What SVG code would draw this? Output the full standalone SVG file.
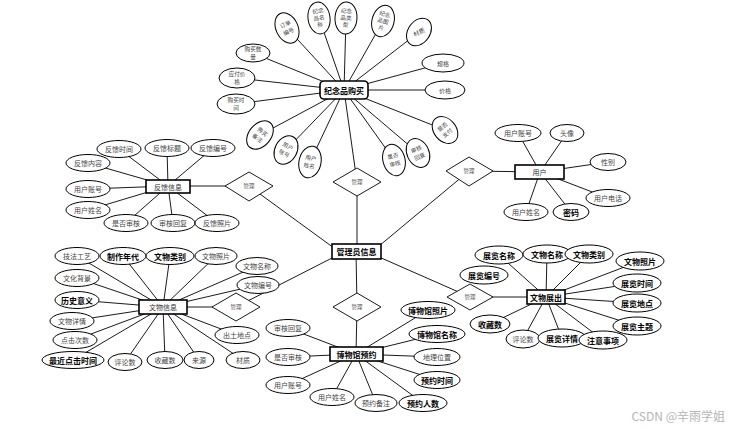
<svg xmlns="http://www.w3.org/2000/svg" width="735" height="429" viewBox="0 0 735 429">
<style>
text{font-family:'Noto Sans CJK SC','Noto Sans',sans-serif;text-anchor:middle;dominant-baseline:central}
.t{font-size:7px;fill:#444}
.b{font-size:8px;fill:#000;font-weight:bold}
.s{font-size:6px;fill:#444}
.s2{font-size:5.6px;fill:#444}
.dl{font-size:5.5px;fill:#555}
.en{font-size:7px;fill:#333}
.eb{font-size:8px;fill:#000;font-weight:bold}
ellipse{fill:#fff;stroke:#000;stroke-width:1}
.er{fill:#fff;stroke:#000;stroke-width:1.6}
.d{fill:#fff;stroke:#000;stroke-width:0.9}
#connectors line{stroke:#000;stroke-width:0.9}
</style>
<rect width="735" height="429" fill="#fff"/>
<g id="connectors">
<!-- souvenir -->
<line x1="287" y1="28" x2="344" y2="90"/><line x1="319" y1="18" x2="344" y2="90"/><line x1="346" y1="18" x2="344" y2="90"/><line x1="383" y1="21" x2="344" y2="90"/><line x1="419" y1="32" x2="344" y2="90"/><line x1="253" y1="53" x2="344" y2="90"/><line x1="237" y1="78" x2="344" y2="90"/><line x1="443" y1="63" x2="344" y2="90"/><line x1="445" y1="90" x2="344" y2="90"/><line x1="236" y1="104" x2="344" y2="90"/><line x1="260" y1="135" x2="344" y2="90"/><line x1="286" y1="150" x2="344" y2="90"/><line x1="310" y1="162" x2="344" y2="90"/><line x1="394" y1="160" x2="344" y2="90"/><line x1="418" y1="153" x2="344" y2="90"/><line x1="445" y1="130" x2="344" y2="90"/>
<!-- feedback -->
<line x1="119" y1="149" x2="168" y2="186"/><line x1="167" y1="148" x2="168" y2="186"/><line x1="213" y1="148" x2="168" y2="186"/><line x1="88" y1="163" x2="168" y2="186"/><line x1="88" y1="189" x2="168" y2="186"/><line x1="88" y1="210" x2="168" y2="186"/><line x1="126" y1="223" x2="168" y2="186"/><line x1="173" y1="223" x2="168" y2="186"/><line x1="217" y1="223" x2="168" y2="186"/>
<!-- user -->
<line x1="518" y1="133" x2="540" y2="172"/><line x1="567" y1="133" x2="540" y2="172"/><line x1="608" y1="162" x2="540" y2="172"/><line x1="608" y1="198" x2="540" y2="172"/><line x1="526" y1="212" x2="540" y2="172"/><line x1="571" y1="212" x2="540" y2="172"/>
<!-- artifact -->
<line x1="77" y1="256" x2="163" y2="307"/><line x1="123" y1="256" x2="163" y2="307"/><line x1="170" y1="256" x2="163" y2="307"/><line x1="216" y1="256" x2="163" y2="307"/><line x1="257" y1="266" x2="163" y2="307"/><line x1="258" y1="285" x2="163" y2="307"/><line x1="77" y1="278" x2="163" y2="307"/><line x1="77" y1="300" x2="163" y2="307"/><line x1="72" y1="321" x2="163" y2="307"/><line x1="75" y1="340" x2="163" y2="307"/><line x1="73" y1="360" x2="163" y2="307"/><line x1="125" y1="362" x2="163" y2="307"/><line x1="165" y1="360" x2="163" y2="307"/><line x1="199" y1="360" x2="163" y2="307"/><line x1="243" y1="360" x2="163" y2="307"/><line x1="237" y1="335" x2="163" y2="307"/>
<!-- reservation -->
<line x1="288" y1="328" x2="356" y2="354"/><line x1="288" y1="357" x2="356" y2="354"/><line x1="288" y1="385" x2="356" y2="354"/><line x1="332" y1="397" x2="356" y2="354"/><line x1="376" y1="403" x2="356" y2="354"/><line x1="423" y1="403" x2="356" y2="354"/><line x1="437" y1="380" x2="356" y2="354"/><line x1="437" y1="357" x2="356" y2="354"/><line x1="437" y1="334" x2="356" y2="354"/><line x1="428" y1="310" x2="356" y2="354"/>
<!-- exhibition -->
<line x1="499" y1="255" x2="546" y2="297"/><line x1="547" y1="254" x2="546" y2="297"/><line x1="589" y1="254" x2="546" y2="297"/><line x1="640" y1="261" x2="546" y2="297"/><line x1="637" y1="283" x2="546" y2="297"/><line x1="637" y1="303" x2="546" y2="297"/><line x1="637" y1="326" x2="546" y2="297"/><line x1="490" y1="324" x2="546" y2="297"/><line x1="523" y1="339" x2="546" y2="297"/><line x1="562" y1="338" x2="546" y2="297"/><line x1="603" y1="340" x2="546" y2="297"/>
<!-- relationships -->
<line x1="168" y1="186" x2="249" y2="186"/><line x1="249" y1="186" x2="334" y2="248"/>
<line x1="344" y1="90" x2="357" y2="182"/><line x1="357" y1="182" x2="357" y2="251"/>
<line x1="379" y1="246" x2="469" y2="171"/><line x1="469" y1="171" x2="540" y2="172"/>
<line x1="163" y1="307" x2="236" y2="307"/><line x1="236" y1="307" x2="334" y2="257"/>
<line x1="356" y1="251" x2="357" y2="307"/><line x1="357" y1="307" x2="356" y2="354"/>
<line x1="379" y1="257" x2="470" y2="297"/><line x1="470" y1="297" x2="546" y2="297"/>
</g>

<!-- relationship diamonds -->
<g id="rel-feedback"><polygon class="d" points="225,186 249,172 273,186 249,201"/><text class="dl" x="249" y="186">管理</text></g>
<g id="rel-souvenir"><polygon class="d" points="333,182 357,168 381,182 357,196"/><text class="dl" x="357" y="182">管理</text></g>
<g id="rel-user"><polygon class="d" points="446,171 469,157 493,171 469,186"/><text class="dl" x="469" y="171">管理</text></g>
<g id="rel-artifact"><polygon class="d" points="212,307 236,293 260,307 236,321"/><text class="dl" x="236" y="307">管理</text></g>
<g id="rel-reservation"><polygon class="d" points="333,307 357,293 381,307 357,321"/><text class="dl" x="357" y="307">管理</text></g>
<g id="rel-exhibition"><polygon class="d" points="447,297 470,284 493,297 470,310"/><text class="dl" x="470" y="297">管理</text></g>

<!-- entities -->
<g id="ent-souvenir"><rect class="er" x="320" y="81" width="48" height="18" rx="4"/><text class="eb" x="344" y="90">纪念品购买</text></g>
<g id="ent-admin"><rect class="er" x="332" y="244" width="49" height="15"/><text class="eb" x="356.5" y="251.5">管理员信息</text></g>
<g id="ent-feedback"><rect class="er" x="146" y="180" width="44" height="13"/><text class="en" x="168" y="186.5">反馈信息</text></g>
<g id="ent-user"><rect class="er" x="515" y="165" width="49" height="14"/><text class="en" x="539.5" y="172">用户</text></g>
<g id="ent-artifact"><rect class="er" x="139" y="300" width="48" height="14"/><text class="en" x="163" y="307">文物信息</text></g>
<g id="ent-reservation"><rect class="er" x="330" y="347" width="53" height="14"/><text class="eb" x="356.5" y="354">博物馆预约</text></g>
<g id="ent-exhibition"><rect class="er" x="527" y="290" width="38" height="14"/><text class="eb" x="546" y="297">文物展出</text></g>

<!-- souvenir attributes -->
<g id="s-ddbh" transform="translate(287,28) rotate(-25)"><ellipse rx="11" ry="16"/><text class="s2"><tspan x="0" y="-4">订单</tspan><tspan x="0" y="4">编号</tspan></text></g>
<g id="s-jnpmc" transform="translate(319,18) rotate(-8)"><ellipse rx="11" ry="16"/><text class="s2"><tspan x="0" y="-7">纪念</tspan><tspan x="0" y="0">品名</tspan><tspan x="0" y="7">称</tspan></text></g>
<g id="s-jnplx" transform="translate(346,18) rotate(3)"><ellipse rx="11" ry="16"/><text class="s2"><tspan x="0" y="-7">纪念</tspan><tspan x="0" y="0">品类</tspan><tspan x="0" y="7">型</tspan></text></g>
<g id="s-jnptp" transform="translate(383,21) rotate(15)"><ellipse rx="11" ry="16"/><text class="s2"><tspan x="0" y="-7">纪念</tspan><tspan x="0" y="0">品图</tspan><tspan x="0" y="7">片</tspan></text></g>
<g id="s-cz" transform="translate(419,32) rotate(35)"><ellipse rx="11" ry="15"/><text class="s" x="0" y="0" transform="rotate(-60)">材质</text></g>
<g id="s-gmsl"><ellipse cx="253" cy="53" rx="17" ry="9"/><text class="s2"><tspan x="253" y="49">购买数</tspan><tspan x="253" y="57">量</tspan></text></g>
<g id="s-yfjg"><ellipse cx="237" cy="78" rx="18" ry="10"/><text class="s2"><tspan x="237" y="74">应付价</tspan><tspan x="237" y="82">格</tspan></text></g>
<g id="s-gmsj"><ellipse cx="236" cy="104" rx="19" ry="10"/><text class="s2"><tspan x="236" y="100">购买时</tspan><tspan x="236" y="108">间</tspan></text></g>
<g id="s-gg"><ellipse cx="443" cy="63" rx="21" ry="9"/><text class="s" x="443" y="63">规格</text></g>
<g id="s-jg"><ellipse cx="445" cy="90" rx="20" ry="9"/><text class="s" x="445" y="90">价格</text></g>
<g id="s-gmbz" transform="translate(260,135) rotate(40)"><ellipse rx="11" ry="16"/><text class="s2"><tspan x="0" y="-4">购买</tspan><tspan x="0" y="4">备注</tspan></text></g>
<g id="s-yhzh" transform="translate(286,150) rotate(28)"><ellipse rx="11" ry="15"/><text class="s2"><tspan x="0" y="-4">用户</tspan><tspan x="0" y="4">账号</tspan></text></g>
<g id="s-yhxm" transform="translate(310,162) rotate(12)"><ellipse rx="11" ry="16"/><text class="s2"><tspan x="0" y="-4">用户</tspan><tspan x="0" y="4">姓名</tspan></text></g>
<g id="s-sfsh" transform="translate(394,160) rotate(-15)"><ellipse rx="11" ry="16"/><text class="s2"><tspan x="0" y="-4">是否</tspan><tspan x="0" y="4">审核</tspan></text></g>
<g id="s-shhf" transform="translate(418,153) rotate(-25)"><ellipse rx="11" ry="15"/><text class="s2"><tspan x="0" y="-4">审核</tspan><tspan x="0" y="4">回复</tspan></text></g>
<g id="s-sfzf" transform="translate(445,130) rotate(-40)"><ellipse rx="11" ry="15"/><text class="s2"><tspan x="0" y="-4">是否</tspan><tspan x="0" y="4">支付</tspan></text></g>

<!-- feedback attributes -->
<g id="f-fksj"><ellipse cx="119" cy="149" rx="22" ry="8.5"/><text class="t" x="119" y="149">反馈时间</text></g>
<g id="f-fkbt"><ellipse cx="167" cy="148" rx="22" ry="8.5"/><text class="t" x="167" y="148">反馈标题</text></g>
<g id="f-fkbh"><ellipse cx="213" cy="148" rx="22" ry="8.5"/><text class="t" x="213" y="148">反馈编号</text></g>
<g id="f-fknr"><ellipse cx="88" cy="163" rx="22" ry="8.5"/><text class="t" x="88" y="163">反馈内容</text></g>
<g id="f-yhzh"><ellipse cx="88" cy="189" rx="22" ry="8.5"/><text class="t" x="88" y="189">用户账号</text></g>
<g id="f-yhxm"><ellipse cx="88" cy="210" rx="22" ry="8.5"/><text class="t" x="88" y="210">用户姓名</text></g>
<g id="f-sfsh"><ellipse cx="126" cy="223" rx="22" ry="8.5"/><text class="t" x="126" y="223">是否审核</text></g>
<g id="f-shhf"><ellipse cx="173" cy="223" rx="22" ry="8.5"/><text class="t" x="173" y="223">审核回复</text></g>
<g id="f-fkzp"><ellipse cx="217" cy="223" rx="22" ry="8.5"/><text class="t" x="217" y="223">反馈照片</text></g>

<!-- user attributes -->
<g id="u-yhzh"><ellipse cx="518" cy="133" rx="23" ry="8.5"/><text class="t" x="518" y="133">用户账号</text></g>
<g id="u-tx"><ellipse cx="567" cy="133" rx="17" ry="8.5"/><text class="t" x="567" y="133">头像</text></g>
<g id="u-xb"><ellipse cx="608" cy="162" rx="18" ry="8.5"/><text class="t" x="608" y="162">性别</text></g>
<g id="u-yhdh"><ellipse cx="608" cy="198" rx="22" ry="8.5"/><text class="t" x="608" y="198">用户电话</text></g>
<g id="u-yhxm"><ellipse cx="526" cy="212" rx="22" ry="8.5"/><text class="t" x="526" y="212">用户姓名</text></g>
<g id="u-mm"><ellipse cx="571" cy="212" rx="18" ry="8.5"/><text class="b" x="571" y="212">密码</text></g>

<!-- artifact attributes -->
<g id="w-jfgy"><ellipse cx="77" cy="256" rx="22" ry="8.5"/><text class="t" x="77" y="256">技法工艺</text></g>
<g id="w-zznd"><ellipse cx="123" cy="256" rx="23" ry="8.5"/><text class="b" x="123" y="256">制作年代</text></g>
<g id="w-wwlb"><ellipse cx="170" cy="256" rx="24" ry="8.5"/><text class="b" x="170" y="256">文物类别</text></g>
<g id="w-wwzp"><ellipse cx="216" cy="256" rx="21" ry="8.5"/><text class="t" x="216" y="256">文物照片</text></g>
<g id="w-wwmc"><ellipse cx="257" cy="266" rx="21" ry="8.5"/><text class="t" x="257" y="266">文物名称</text></g>
<g id="w-wwbh"><ellipse cx="258" cy="285" rx="21" ry="8.5"/><text class="t" x="258" y="285">文物编号</text></g>
<g id="w-whbj"><ellipse cx="77" cy="278" rx="22" ry="8.5"/><text class="t" x="77" y="278">文化背景</text></g>
<g id="w-lsyy"><ellipse cx="77" cy="300" rx="22" ry="8.5"/><text class="b" x="77" y="300">历史意义</text></g>
<g id="w-wwxq"><ellipse cx="72" cy="321" rx="22" ry="8.5"/><text class="t" x="72" y="321">文物详情</text></g>
<g id="w-djcs"><ellipse cx="75" cy="340" rx="22" ry="8.5"/><text class="t" x="75" y="340">点击次数</text></g>
<g id="w-zjdjsj"><ellipse cx="73" cy="360" rx="31" ry="8.5"/><text class="b" x="73" y="360">最近点击时间</text></g>
<g id="w-pls"><ellipse cx="125" cy="362" rx="17" ry="8.5"/><text class="t" x="125" y="362">评论数</text></g>
<g id="w-scs"><ellipse cx="165" cy="360" rx="18" ry="8.5"/><text class="t" x="165" y="360">收藏数</text></g>
<g id="w-ly"><ellipse cx="199" cy="360" rx="15" ry="8.5"/><text class="t" x="199" y="360">来源</text></g>
<g id="w-cz"><ellipse cx="243" cy="360" rx="17" ry="8.5"/><text class="t" x="243" y="360">材质</text></g>
<g id="w-ctdd"><ellipse cx="237" cy="335" rx="22" ry="8.5"/><text class="t" x="237" y="335">出土地点</text></g>

<!-- reservation attributes -->
<g id="m-shhf"><ellipse cx="288" cy="328" rx="22" ry="8.5"/><text class="t" x="288" y="328">审核回复</text></g>
<g id="m-sfsh"><ellipse cx="288" cy="357" rx="22" ry="8.5"/><text class="t" x="288" y="357">是否审核</text></g>
<g id="m-yhzh"><ellipse cx="288" cy="385" rx="22" ry="8.5"/><text class="t" x="288" y="385">用户账号</text></g>
<g id="m-yhxm"><ellipse cx="332" cy="397" rx="22" ry="8.5"/><text class="t" x="332" y="397">用户姓名</text></g>
<g id="m-yybz"><ellipse cx="376" cy="403" rx="21" ry="8.5"/><text class="t" x="376" y="403">预约备注</text></g>
<g id="m-yyrs"><ellipse cx="423" cy="403" rx="24" ry="8.5"/><text class="b" x="423" y="403">预约人数</text></g>
<g id="m-yysj"><ellipse cx="437" cy="380" rx="23" ry="8.5"/><text class="b" x="437" y="380">预约时间</text></g>
<g id="m-dlwz"><ellipse cx="437" cy="357" rx="23" ry="8.5"/><text class="t" x="437" y="357">地理位置</text></g>
<g id="m-bwgmc"><ellipse cx="437" cy="334" rx="28" ry="8.5"/><text class="b" x="437" y="334">博物馆名称</text></g>
<g id="m-bwgzp"><ellipse cx="428" cy="310" rx="27" ry="8.5"/><text class="b" x="428" y="310">博物馆照片</text></g>

<!-- exhibition attributes -->
<g id="e-zlmc"><ellipse cx="499" cy="255" rx="24" ry="9"/><text class="b" x="499" y="255">展览名称</text></g>
<g id="e-wwmc"><ellipse cx="547" cy="254" rx="24" ry="9"/><text class="b" x="547" y="254">文物名称</text></g>
<g id="e-wwlb"><ellipse cx="589" cy="254" rx="24" ry="9"/><text class="b" x="589" y="254">文物类别</text></g>
<g id="e-wwzp"><ellipse cx="640" cy="261" rx="24" ry="9"/><text class="b" x="640" y="261">文物照片</text></g>
<g id="e-zlbh"><ellipse cx="484" cy="275" rx="24" ry="9"/><text class="b" x="484" y="275">展览编号</text></g>
<g id="e-zlsj"><ellipse cx="637" cy="283" rx="24" ry="9"/><text class="b" x="637" y="283">展览时间</text></g>
<g id="e-zldd"><ellipse cx="637" cy="303" rx="24" ry="9"/><text class="b" x="637" y="303">展览地点</text></g>
<g id="e-zlzt"><ellipse cx="637" cy="326" rx="24" ry="9"/><text class="b" x="637" y="326">展览主题</text></g>
<g id="e-scs"><ellipse cx="490" cy="324" rx="20" ry="9"/><text class="b" x="490" y="324">收藏数</text></g>
<g id="e-pls"><ellipse cx="523" cy="339" rx="17" ry="9"/><text class="t" x="523" y="339">评论数</text></g>
<g id="e-zlxq"><ellipse cx="562" cy="338" rx="24" ry="9"/><text class="b" x="562" y="338">展览详情</text></g>
<g id="e-zysx"><ellipse cx="603" cy="340" rx="24" ry="9"/><text class="b" x="603" y="340">注意事项</text></g>

<text x="725" y="415" style="font-size:12px;fill:#b5b5b5;text-anchor:end">CSDN @辛雨学姐</text>
</svg>
